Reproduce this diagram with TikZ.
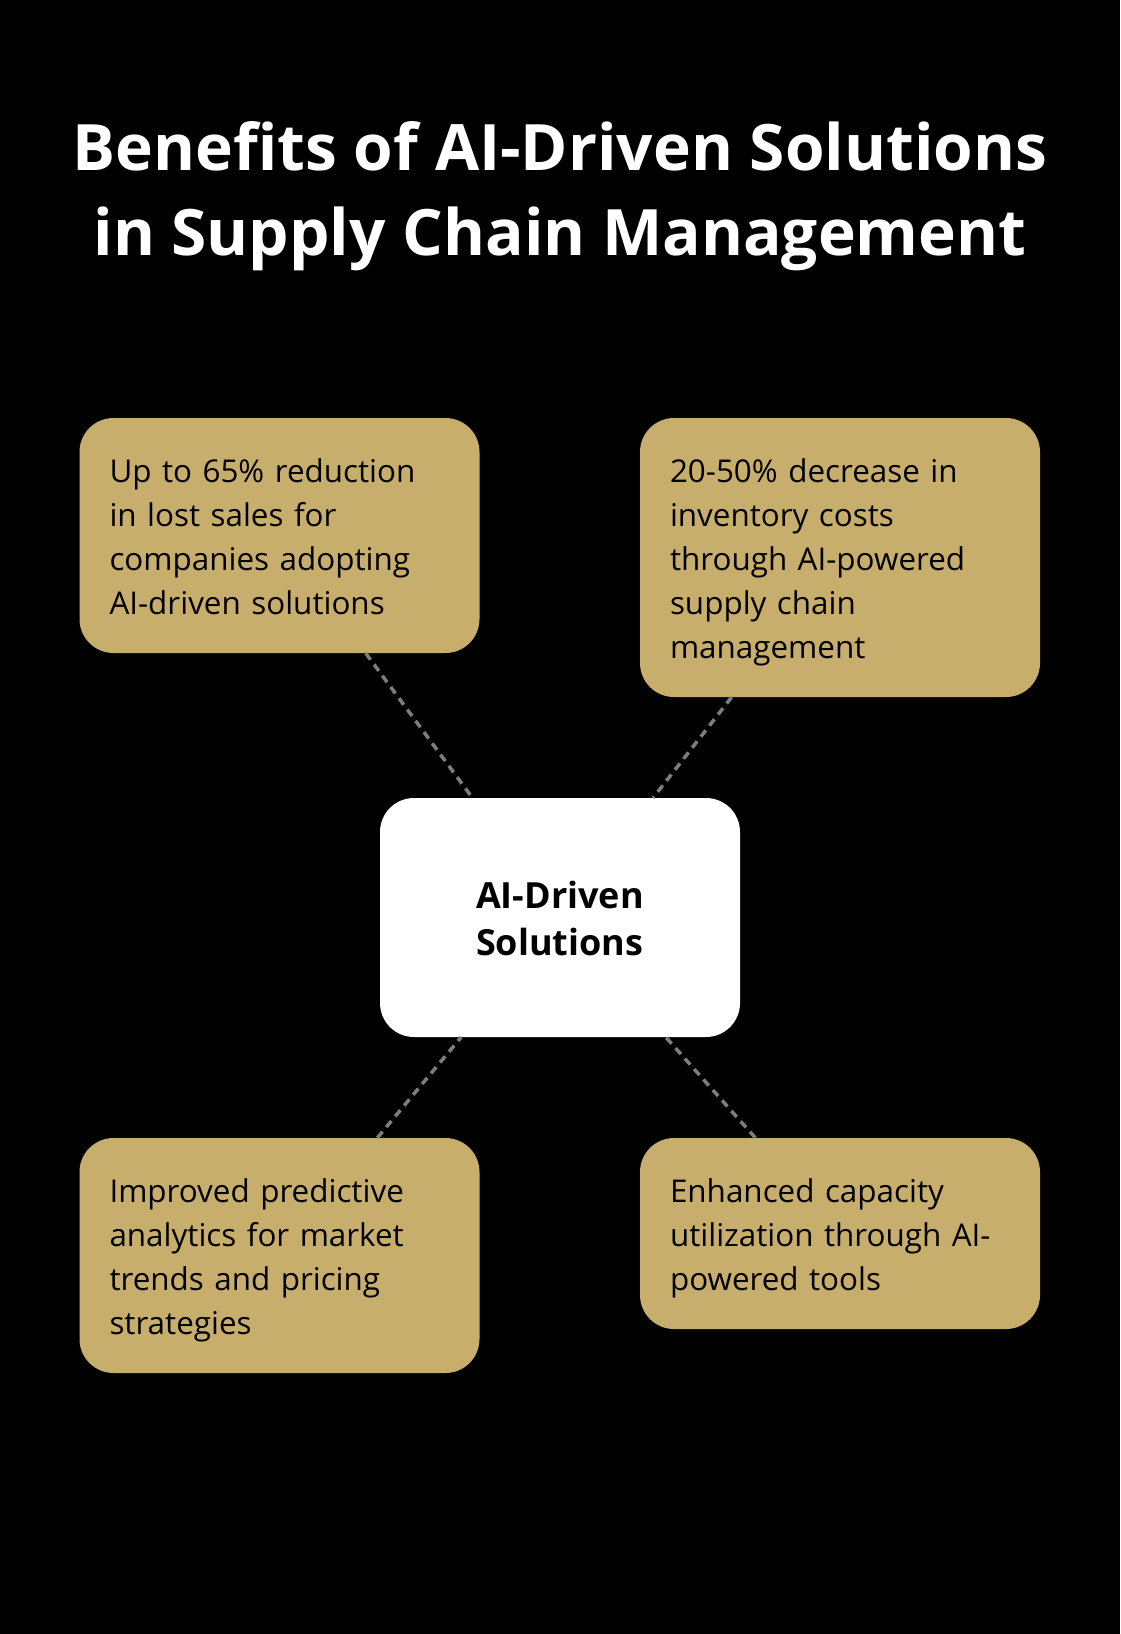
\documentclass[tikz,border=0pt]{standalone}
\usepackage{fontspec}
\setmainfont{Open Sans}
\usepackage{tikz}
\usepackage{xcolor}
\definecolor{BoxGold}{RGB}{200,174,108}
\definecolor{LinkGray}{RGB}{125,125,125}
\newcommand{\bodystrut}{\rule[-9.5pt]{0pt}{44pt}}
\newcommand{\corestrut}{\rule[-9.5pt]{0pt}{47pt}}
\newcommand{\titlestrut}{\rule[-25pt]{0pt}{85pt}}
\tikzset{
	benefit/.style={
		fill=BoxGold, rounded corners=34pt,
		minimum width=400pt, minimum height=#1,
		text width=340pt, align=left, inner xsep=30pt, inner ysep=0pt,
		font=\fontsize{31.4}{44}\selectfont, text=black
	},
	core/.style={
		fill=white, rounded corners=34pt,
		minimum width=360pt, minimum height=239pt,
		align=left, inner sep=0pt,
		font=\fontsize{36}{47}\selectfont\bfseries, text=black
	},
	headline/.style={
		align=center, inner sep=0pt, text=white,
		font=\fontsize{64}{85}\selectfont\bfseries
	},
	link/.style={LinkGray, line width=3.5pt, dash pattern=on 8pt off 6pt},
}

\begin{document}
\begin{tikzpicture}[x=1pt,y=-1pt]
	
	% Page and background
	\useasboundingbox (0,0) rectangle (1120,1634);
	\fill[black] (0,0) rectangle (1120,1634);
	
	% Title
	\node[headline] (title) at (560,195)
	{\titlestrut Benefits of AI-Driven Solutions\\
		in Supply Chain Management\titlestrut};
	
	% Central box
	\node[core] (aicore) at (560,917.5)
	{\corestrut AI-Driven\\Solutions\corestrut};
	
	% The four benefits
	\node[benefit=235pt] (lostsales) at (279.5,535.5)
	{\bodystrut Up to 65\% reduction\\in lost sales for\\companies adopting\\AI-driven solutions\bodystrut};
	\node[benefit=279pt] (inventory) at (840,557.5)
	{\bodystrut 20-50\% decrease in\\inventory costs\\through AI-powered\\supply chain\\management\bodystrut};
	\node[benefit=235pt] (analytics) at (279.5,1255.5)
	{\bodystrut Improved predictive\\analytics for market\\trends and pricing\\strategies\bodystrut};
	\node[benefit=191pt] (capacity) at (840,1233.5)
	{\bodystrut Enhanced capacity\\utilization through AI-\\powered tools\bodystrut};
	
	% Dotted links to the centre
	\draw[link] (lostsales) -- (aicore);
	\draw[link] (inventory) -- (aicore);
	\draw[link] (analytics) -- (aicore);
	\draw[link] (capacity) -- (aicore);
	
\end{tikzpicture}
\end{document}
